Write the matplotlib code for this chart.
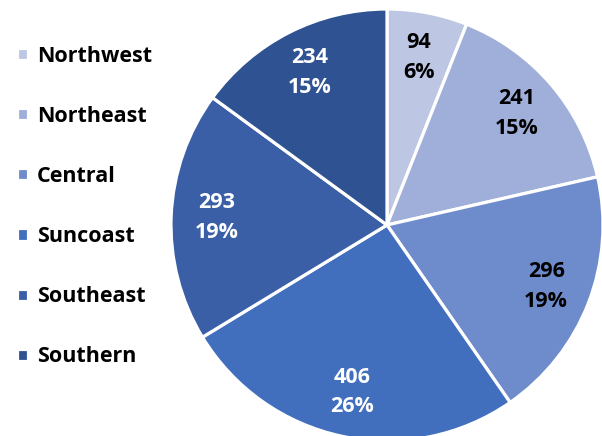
import matplotlib
matplotlib.use("Agg")
import matplotlib.pyplot as plt
import numpy as np

regions = ["Northwest", "Northeast", "Central", "Suncoast", "Southeast", "Southern"]
counts = [94, 241, 296, 406, 293, 234]
colors = ["#bdc7e3", "#a0afd9", "#6e8bcb", "#416fbd", "#3a5fa7", "#2f5292"]
label_colors = ["black", "black", "black", "white", "white", "white"]

plt.rcParams['font.family'] = ['Open Sans', 'DejaVu Sans']

fig = plt.figure(figsize=(6.02, 4.36), dpi=100)
# pie centre at (387, 225) px, radius 216 px
ax = fig.add_axes([(387 - 216) / 602, (211 - 216) / 436, 432 / 602, 432 / 436])

total = sum(counts)
wedges, texts = ax.pie(counts, colors=colors, startangle=90, counterclock=False,
                       radius=1, wedgeprops=dict(edgecolor="white", linewidth=2.3))
ax.set_xlim(-1, 1)
ax.set_ylim(-1, 1)
ax.set_aspect("equal")
ax.axis("off")

for w, c, tc in zip(wedges, counts, label_colors):
    mid = np.deg2rad((w.theta1 + w.theta2) / 2)
    x, y = 0.79 * np.cos(mid), 0.79 * np.sin(mid)
    ax.text(x, y, "%d\n%d%%" % (c, round(100 * c / total)), ha="center", va="center",
            fontsize=15.5, fontweight="bold", color=tc, linespacing=1.55)

fig.legend(wedges, regions, loc="upper left", bbox_to_anchor=(0.003, 0.93),
           frameon=False, prop=dict(size=15.5, weight="bold"),
           handlelength=0.5, handleheight=0.5, handletextpad=0.42,
           labelspacing=1.82, borderaxespad=0.3)

fig.savefig("out.png", dpi=100)
